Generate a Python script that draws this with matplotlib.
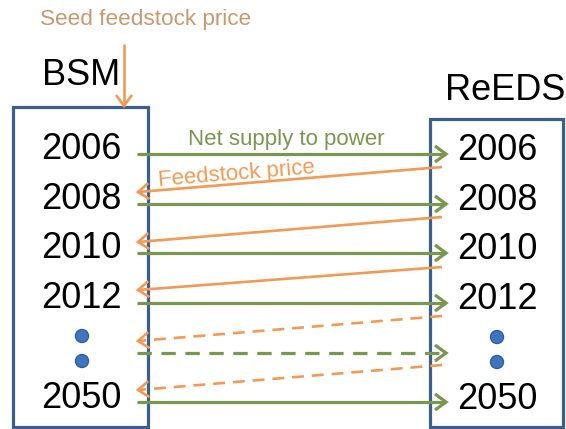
import numpy as np
import matplotlib
matplotlib.use("Agg")
import matplotlib.pyplot as plt
from matplotlib.patches import Rectangle, Circle

plt.rcParams['font.family'] = ['Liberation Sans', 'DejaVu Sans']

# ---- content ----
left_title = "BSM"
right_title = "ReEDS"
years = ["2006", "2008", "2010", "2012", "2050"]
seed_label = "Seed feedstock price"
supply_label = "Net supply to power"
price_label = "Feedstock price"

# ---- layout (pixel coordinates) ----
W, H = 566, 429
row_base = [159, 209, 258, 308, 408]        # year label baselines
green_y = [154, 204, 253, 303, 402]          # supply arrows
green_dashed_y = [353]
orange_solid = [(167, 192), (217, 242), (267, 290)]   # (start y at right, end y at left)
orange_dashed = [(316, 341), (365, 390)]
dots_y = [336, 361]

C_BOX = "#3B5E8C"
C_GREEN = "#7A9650"
C_ORANGE = "#F29A55"
C_SEED = "#C9986E"
C_DOT = "#3F74BE"

fig = plt.figure(figsize=(W / 100, H / 100), dpi=100)
ax = fig.add_axes([0, 0, 1, 1])
ax.set_xlim(0, W)
ax.set_ylim(H, 0)
ax.axis("off")


def arrow(x0, y0, x1, y1, color, lw, dashed=False, head_len=11, head_w=8):
    ls = (0, (4.5, 3)) if dashed else "-"
    ax.plot([x0, x1], [y0, y1], color=color, lw=lw, ls=ls, solid_capstyle="butt",
            dash_capstyle="butt", zorder=3)
    d = np.array([x1 - x0, y1 - y0], float)
    d /= np.hypot(*d)
    n = np.array([-d[1], d[0]])
    tip = np.array([x1, y1])
    base = tip - d * head_len
    p1 = base + n * head_w
    p2 = base - n * head_w
    ax.plot([p1[0], tip[0], p2[0]], [p1[1], tip[1], p2[1]], color=color, lw=lw,
            solid_joinstyle="miter", solid_capstyle="butt", zorder=3)


# boxes
ax.add_patch(Rectangle((13, 107), 135, 320, fill=False, ec=C_BOX, lw=2.3, zorder=2))
ax.add_patch(Rectangle((430, 119), 133, 308, fill=False, ec=C_BOX, lw=2.3, zorder=2))

# titles
ax.text(81, 85, left_title, fontsize=26, ha="center", va="baseline", color="black")
ax.text(505, 100, right_title, fontsize=26, ha="center", va="baseline", color="black")
ax.text(146, 25, seed_label, fontsize=16.2, ha="center", va="baseline", color=C_SEED)

# seed arrow
arrow(124, 44, 124, 106, C_ORANGE, 1.9, head_len=11, head_w=8)

# year labels
for y, yr in zip(row_base, years):
    ax.text(81, y, yr, fontsize=26, ha="center", va="baseline", color="black")
    ax.text(497, y + 1, yr, fontsize=26, ha="center", va="baseline", color="black")

# dots
for y in dots_y:
    ax.add_patch(Circle((82, y), 6.5, fc=C_DOT, ec="#2E5E9E", lw=1, zorder=3))
    ax.add_patch(Circle((497, y + 1), 6.5, fc=C_DOT, ec="#2E5E9E", lw=1, zorder=3))

# supply arrows
for y in green_y:
    arrow(137, y, 446, y, C_GREEN, 2.3)
for y in green_dashed_y:
    arrow(137, y, 446, y, C_GREEN, 2.3, dashed=True)

# price arrows
for ys, ye in orange_solid:
    arrow(442, ys, 138, ye, C_ORANGE, 1.9)
for ys, ye in orange_dashed:
    arrow(442, ys, 138, ye, C_ORANGE, 1.9, dashed=True)

# arrow labels
ax.text(286, 145, supply_label, fontsize=16, ha="center", va="baseline", color=C_GREEN)
ang = np.degrees(np.arctan2(192 - 167, 442 - 138))
ax.text(236, 174, price_label, fontsize=16, ha="center", va="center", color=C_ORANGE,
        rotation=ang, rotation_mode="anchor")

fig.savefig("out.png", dpi=100)
